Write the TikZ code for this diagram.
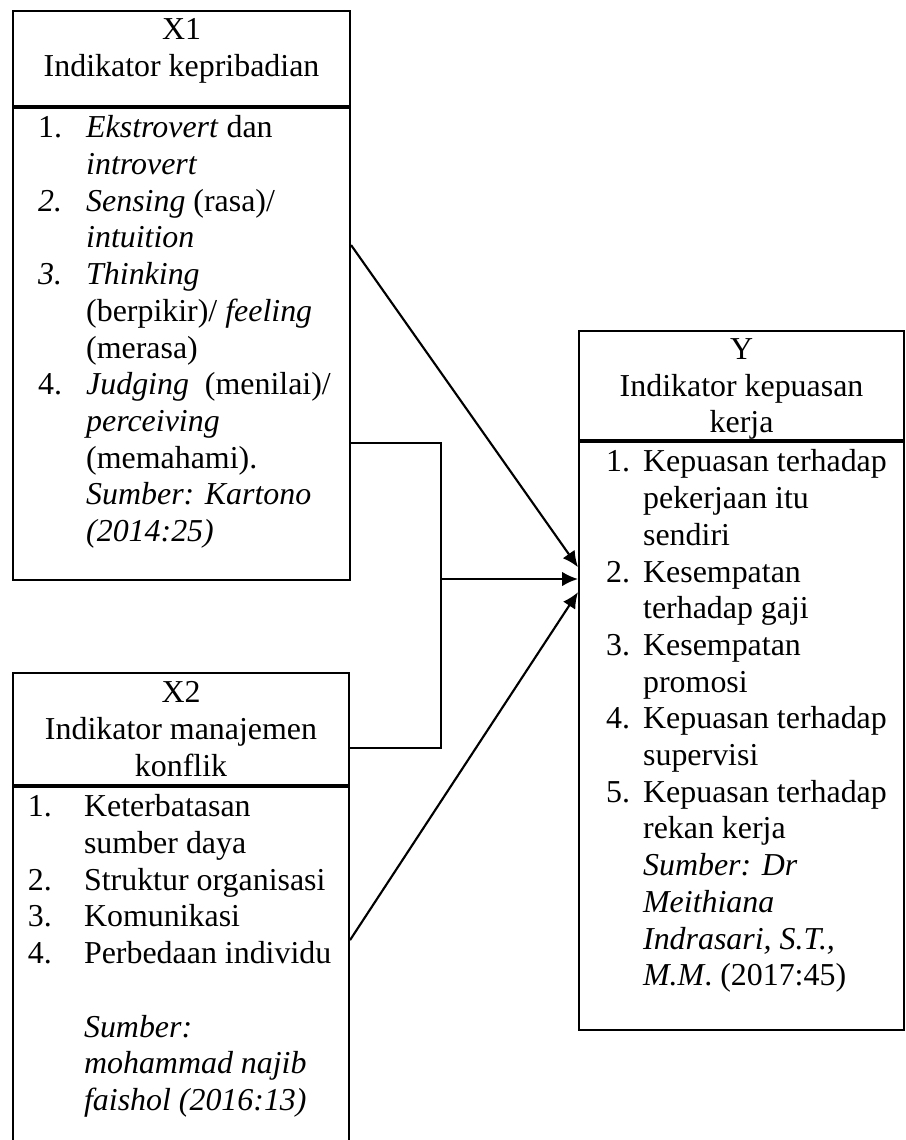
\documentclass[tikz,border=0pt]{standalone}
\usepackage{fontspec}
\setmainfont{Liberation Serif}
\usepackage{tikz}
\usetikzlibrary{arrows.meta,positioning,calc}

\begin{document}
\begin{tikzpicture}[x=0.376pt, y=-0.376pt, line width=0.8pt,
    every node/.style={font=\fontsize{12}{13.8}\selectfont, inner sep=0pt},
    kotak/.style={draw, rectangle},
    >={Latex[length=6pt,width=5.5pt]}]
    \useasboundingbox (0,0) rectangle (905,1140);
    \clip (0,0) rectangle (905,1140);

    % X1
    \node[kotak, anchor=north west] (x1h) at (12,10)
        {\parbox[c][35.7pt][t]{126.7pt}{\centering\vspace*{1pt}\strut X1\\Indikator kepribadian}};
    \node[kotak, below=0pt of x1h] (x1b)
        {\parbox[c][177.5pt][t]{126.7pt}{\vspace*{1.5pt}%
        \begin{tabular}[t]{@{\hspace{9.4pt}}p{18.1pt}@{}l@{}}
        1. & \textit{Ekstrovert} dan\\
           & \textit{introvert}\\
        \textit{2.} & \textit{Sensing} (rasa)/\\
           & \textit{intuition}\\
        \textit{3.} & \textit{Thinking}\\
           & (berpikir)/ \textit{feeling}\\
           & (merasa)\\
        4. & \textit{Judging}\ \ (menilai)/\\
           & \textit{perceiving}\\
           & (memahami).\\
           & \textit{Sumber: Kartono}\\
           & \textit{(2014:25)}
        \end{tabular}}};

    % X2
    \node[kotak, anchor=north west] (x2h) at (12,672)
        {\parbox[c][42.1pt][t]{126.3pt}{\centering\vspace*{1.5pt}\strut X2\\Indikator manajemen\\konflik}};
    \node[kotak, below=0pt of x2h] (x2b)
        {\parbox[c][140pt][t]{126.3pt}{\vspace*{1.5pt}%
        \begin{tabular}[t]{@{\hspace{5.6pt}}p{21.1pt}@{}l@{}}
        1. & Keterbatasan\\
           & sumber daya\\
        2. & Struktur organisasi\\
        3. & Komunikasi\\
        4. & Perbedaan individu\\
           & \\
           & \textit{Sumber:}\\
           & \textit{mohammad najib}\\
           & \textit{faishol (2016:13)}
        \end{tabular}}};

    % Y
    \node[kotak, anchor=north west] (yh) at (578,330)
        {\parbox[c][41pt][t]{122.2pt}{\centering\vspace*{1pt}\strut Y\\Indikator kepuasan\\kerja}};
    \node[kotak, below=0pt of yh] (yb)
        {\parbox[c][221.1pt][t]{122.2pt}{\vspace*{1.5pt}%
        \begin{tabular}[t]{@{\hspace{10.2pt}}p{13.9pt}@{}l@{}}
        1. & Kepuasan terhadap\\
           & pekerjaan itu\\
           & sendiri\\
        2. & Kesempatan\\
           & terhadap gaji\\
        3. & Kesempatan\\
           & promosi\\
        4. & Kepuasan terhadap\\
           & supervisi\\
        5. & Kepuasan terhadap\\
           & rekan kerja\\
           & \textit{Sumber: Dr}\\
           & \textit{Meithiana}\\
           & \textit{Indrasari, S.T.,}\\
           & \textit{M.M}. (2017:45)
        \end{tabular}}};

    % connectors
    \coordinate (jn) at (441,579);
    \draw[->] ($(x1b.north east)+(0,138)$) -- ($(yb.north west)+(0,126)$);
    \draw ($(x1b.north east)+(0,336)$) -| (jn) |- ($(x2h.north east)+(0,76)$);
    \draw[->] (jn) -- (jn -| yb.west);
    \draw[->] ($(x2b.north east)+(0,154)$) -- ($(yb.north west)+(0,151)$);

\end{tikzpicture}
\end{document}
